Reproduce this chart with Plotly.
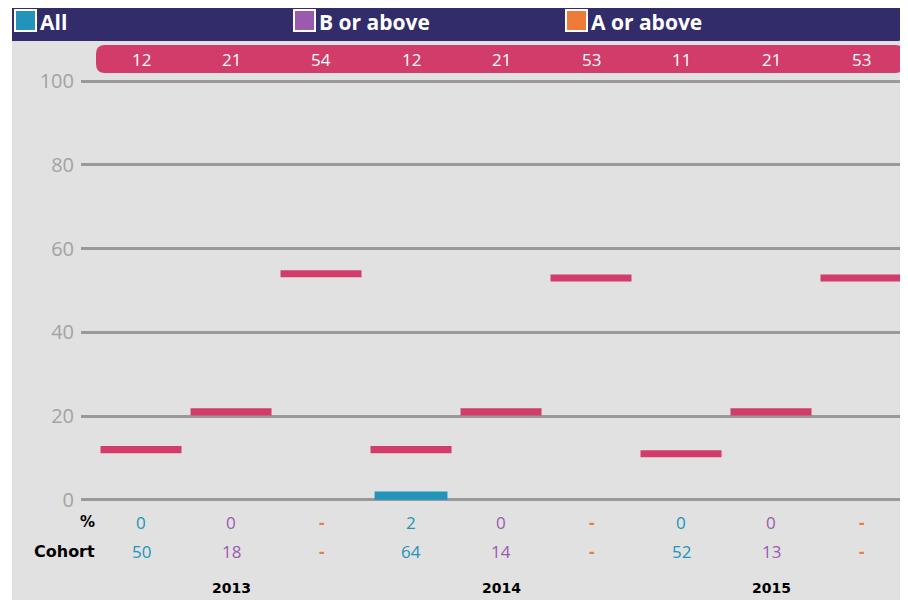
import plotly.graph_objects as go

# data
years = ["2013", "2014", "2015"]
groups = ["All", "B or above", "A or above"]
group_colors = ["#2294B9", "#9C5AAE", "#EE7B36"]

pct_all = [0, 2, 0]
pct_b = [0, 0, 0]
pct_a = [None, None, None]

cohort_all = [50, 64, 52]
cohort_b = [18, 14, 13]
cohort_a = [None, None, None]

targets = [12, 21, 54, 12, 21, 53, 11, 21, 53]

PINK = "#D13C6A"
NAVY = "#332C6B"
PANEL = "#E1E1E1"
GRID = "#999999"
FONT = "Open Sans"
BOLD = "DejaVu Sans"

# page body has an 8px margin, so the figure sits at (8, 8) in the window
OX, OY = 8, 8
W, H = 900, 592
L, R, T, B = 73, 2, 69, 96
PW, PH = W - L - R, H - T - B


def px(x):
    # window pixel -> paper x
    return (x - OX - L) / PW


def py(y):
    # window pixel -> paper y
    return (H - B - (y - OY)) / PH


def rounded_path(x0, y0, x1, y1, r, corners="all"):
    rx, ry = r / PW, r / PH
    X0, X1 = px(x0), px(x1)
    Yt, Yb = py(y0), py(y1)
    tl = tr = bl = corners == "all"
    br = True
    d = f"M{X0 + (rx if tl else 0)},{Yt} "
    d += f"L{X1 - (rx if tr else 0)},{Yt} "
    if tr:
        d += f"Q{X1},{Yt} {X1},{Yt - ry} "
    d += f"L{X1},{Yb + (ry if br else 0)} "
    if br:
        d += f"Q{X1},{Yb} {X1 - rx},{Yb} "
    d += f"L{X0 + (rx if bl else 0)},{Yb} "
    if bl:
        d += f"Q{X0},{Yb} {X0},{Yb + ry} "
    d += f"L{X0},{Yt - (ry if tl else 0)} "
    if tl:
        d += f"Q{X0},{Yt} {X0 + rx},{Yt} "
    return d + "Z"


n = len(years) * len(groups)
xs = list(range(n))

pct_vals = []
cohort_vals = []
bar_colors = []
for i in range(len(years)):
    for g, (p_series, c_series) in enumerate([(pct_all, cohort_all), (pct_b, cohort_b), (pct_a, cohort_a)]):
        pct_vals.append(p_series[i])
        cohort_vals.append(c_series[i])
        bar_colors.append(group_colors[g])

fig = go.Figure()

fig.add_trace(go.Bar(
    x=xs, y=[v if v is not None else 0 for v in pct_vals],
    width=0.81, marker=dict(color=bar_colors, line_width=0),
    hoverinfo="skip", showlegend=False))

# target markers
thick = 1.7
fig.add_trace(go.Bar(
    x=xs, y=[thick] * n, base=[t - thick / 2 for t in targets],
    width=0.9, marker=dict(color=PINK, line_width=0),
    hoverinfo="skip", showlegend=False))

shapes = [
    dict(type="rect", xref="paper", yref="paper", x0=px(12), x1=px(920),
         y0=py(620), y1=py(5), fillcolor=PANEL, line_width=0, layer="below"),
    dict(type="path", xref="paper", yref="paper", path=rounded_path(12, 5, 905, 41, 9, corners="br"),
         fillcolor=NAVY, line_width=0, layer="below"),
    dict(type="path", xref="paper", yref="paper", path=rounded_path(96, 45, 904, 73, 9),
         fillcolor=PINK, line_width=0, layer="below"),
]

annotations = []

# legend in header band
legend_x = [15, 294, 566]
for name, col, lx in zip(groups, group_colors, legend_x):
    shapes.append(dict(type="rect", xref="paper", yref="paper", x0=px(lx), x1=px(lx + 21),
                       y0=py(31), y1=py(10), fillcolor=col, line=dict(color="white", width=2)))
    annotations.append(dict(x=px(lx + 23), y=py(22), xref="paper", yref="paper", text=f"<b>{name}</b>",
                            showarrow=False, xanchor="left", yanchor="middle",
                            font=dict(family=FONT, size=21, color="white")))

# target labels in pill
for x, t in zip(xs, targets):
    annotations.append(dict(x=x, y=py(60), xref="x", yref="paper", text=str(t), showarrow=False,
                            yanchor="middle", font=dict(family=FONT, size=17, color="white")))

# table rows
annotations.append(dict(x=px(97), y=py(522), xref="paper", yref="paper", text="<b>%</b>", showarrow=False,
                        xanchor="right", yanchor="middle", font=dict(family=BOLD, size=15, color="black")))
annotations.append(dict(x=px(97), y=py(551), xref="paper", yref="paper", text="<b>Cohort</b>", showarrow=False,
                        xanchor="right", yanchor="middle", font=dict(family=BOLD, size=16, color="black")))
for x, p, c, col in zip(xs, pct_vals, cohort_vals, bar_colors):
    annotations.append(dict(x=x, y=py(522), xref="x", yref="paper", text="<b>-</b>" if p is None else str(p),
                            showarrow=False, yanchor="middle", font=dict(family=FONT, size=17, color=col)))
    annotations.append(dict(x=x, y=py(551), xref="x", yref="paper", text="<b>-</b>" if c is None else str(c),
                            showarrow=False, yanchor="middle", font=dict(family=FONT, size=17, color=col)))
for i, yr in enumerate(years):
    annotations.append(dict(x=i * 3 + 1, y=py(588), xref="x", yref="paper", text=f"<b>{yr}</b>",
                            showarrow=False, yanchor="middle", font=dict(family=BOLD, size=14, color="black")))

fig.update_layout(
    width=W, height=H,
    margin=dict(l=L, r=R, t=T, b=B),
    paper_bgcolor="white", plot_bgcolor="rgba(0,0,0,0)",
    barmode="overlay", showlegend=False,
    shapes=shapes, annotations=annotations,
    xaxis=dict(range=[-0.667, 8.5], showgrid=False, zeroline=False, showticklabels=False, fixedrange=True),
    yaxis=dict(range=[-1, 101], tickvals=[0, 20, 40, 60, 80, 100], showgrid=True, gridcolor=GRID,
               gridwidth=3, zeroline=False, tickfont=dict(family=FONT, size=20, color="#A3A3A3"),
               ticklabelstandoff=6, fixedrange=True),
    font=dict(family=FONT),
)

fig.write_html("out.html")
